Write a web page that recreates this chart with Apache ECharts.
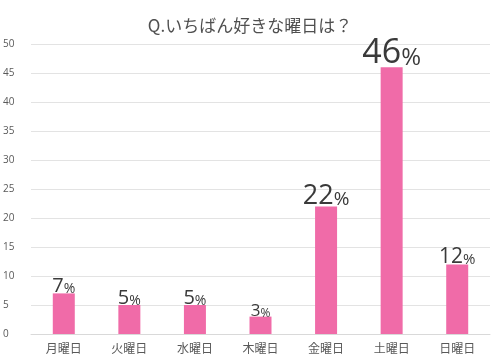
<!DOCTYPE html>
<html><head><meta charset="utf-8">
<script src="https://cdn.jsdelivr.net/npm/echarts@6/dist/echarts.min.js"></script>
<style>html,body{margin:0;padding:0;background:#fff}#c{width:500px;height:363px}</style>
</head><body><div id="c"></div>
<script>
const title = 'Q.いちばん好きな曜日は？';
const categories = ['月曜日','火曜日','水曜日','木曜日','金曜日','土曜日','日曜日'];
const values = [7, 5, 5, 3, 22, 46, 12];
const labelSizes = [20, 20, 20, 17, 27, 34, 21];
const yTicks = [0, 5, 10, 15, 20, 25, 30, 35, 40, 45, 50];

const chart = echarts.init(document.getElementById('c'));
const data = values.map((v, i) => ({
  value: v,
  label: {
    show: true,
    position: 'top',
    distance: -3,
    formatter: '{n|' + v + '}{p|%}',
    rich: {
      n: { fontSize: labelSizes[i], color: '#3a3a3a', fontFamily: 'Open Sans', lineHeight: labelSizes[i] },
      p: { fontSize: Math.round(labelSizes[i] * 0.7), color: '#3a3a3a', fontFamily: 'Open Sans', lineHeight: labelSizes[i], verticalAlign: 'bottom' }
    }
  }
}));
chart.setOption({
  animation: false,
  title: { text: title, left: 'center', top: 12, textStyle: { fontSize: 17, fontWeight: 'normal', color: '#505050', fontFamily: 'Noto Sans CJK JP' } },
  grid: { left: 27, right: 10, top: 44, bottom: 29, containLabel: false },
  xAxis: {
    type: 'category', data: categories,
    axisLine: { lineStyle: { color: '#d9d9d9' } },
    axisTick: { show: false },
    axisLabel: { color: '#595959', fontSize: 12, fontFamily: 'Noto Sans CJK JP', margin: 8 }
  },
  yAxis: {
    type: 'value', min: yTicks[0], max: yTicks[yTicks.length - 1], interval: 5,
    axisLine: { show: false }, axisTick: { show: false },
    axisLabel: { color: '#595959', fontSize: 10, fontFamily: 'Open Sans', margin: 14, align: 'left', padding: [0,0,0,-14] },
    splitLine: { lineStyle: { color: '#e3e3e3' } }
  },
  series: [{ type: 'bar', data: data, barWidth: 22, itemStyle: { color: '#f06ba8' } }]
});
</script></body></html>
